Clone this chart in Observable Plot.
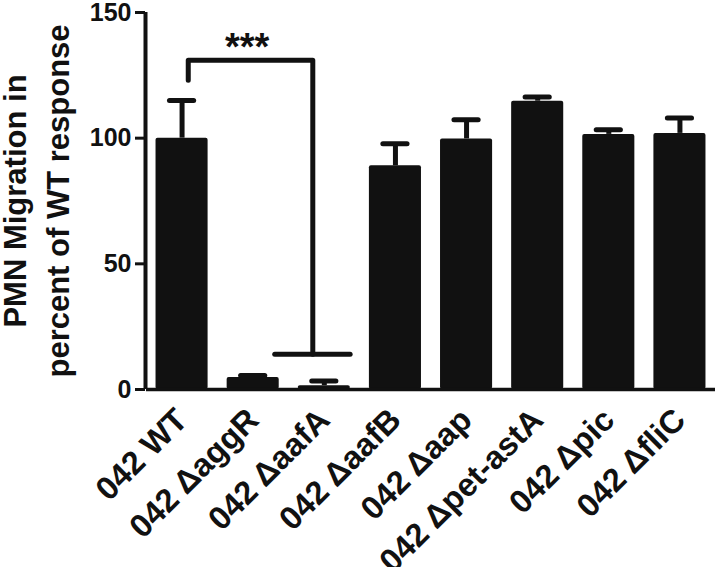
<!DOCTYPE html>
<html>
<head>
<meta charset="utf-8">
<script src="https://cdn.jsdelivr.net/npm/d3@7"></script>
<script src="https://cdn.jsdelivr.net/npm/@observablehq/plot@0.6"></script>
<style>
  html, body { margin: 0; padding: 0; background: #fff; }
  svg { display: block; }
</style>
</head>
<body>
<div id="chart"></div>
<script>
const categories = ["042 WT", "042 \u0394aggR", "042 \u0394aafA", "042 \u0394aafB", "042 \u0394aap", "042 \u0394pet-astA", "042 \u0394pic", "042 \u0394fliC"];
const means = [100, 4.8, 1.5, 89, 99.7, 114.7, 101.5, 101.9];
const upper = [115, 5.6, 3.4, 97.8, 107.3, 116.4, 103.3, 108];
const yTicks = [0, 50, 100, 150];
const yLabel = "PMN Migration in\npercent of WT response";
const sigLabel = "***";
// significance bracket (x in category-index units, y in data units)
const bracketPath = [{x: 0.087, y: 123}, {x: 0.087, y: 131}, {x: 1.838, y: 131}, {x: 1.838, y: 14}];
const bracketFoot = {x1: 1.31, x2: 2.37, y: 14};

const rows = categories.map((c, i) => ({i, name: c, mean: means[i], top: upper[i]}));
const ink = "#111";
const font = "'Liberation Sans', Arial, Helvetica, sans-serif";

const plot = Plot.plot({
  width: 720,
  height: 567,
  marginTop: 12,
  marginBottom: 178,
  marginLeft: 146,
  marginRight: 5,
  style: {fontFamily: font, background: "#fff", color: ink},
  x: {domain: [-0.5, 7.5], axis: null},
  y: {domain: [0, 150], axis: null},
  marks: [
    Plot.rect(rows, {x1: d => d.i - 0.366, x2: d => d.i + 0.366, y1: 0, y2: "mean", fill: ink, rx: 2}),
    Plot.ruleX(rows, {x: "i", y1: "mean", y2: "top", stroke: ink, strokeWidth: 5}),
    Plot.ruleY(rows, {x1: d => d.i - 0.17, x2: d => d.i + 0.17, y: "top", stroke: ink, strokeWidth: 5, strokeLinecap: "round"}),
    Plot.ruleX([-0.5], {y1: 0, y2: 150, stroke: ink, strokeWidth: 4, dx: -1}),
    Plot.ruleY([0], {stroke: ink, strokeWidth: 3.5}),
    Plot.axisY({ticks: yTicks, tickSize: 10, strokeWidth: 3, tickPadding: 4, fontSize: 25, fontWeight: "bold", label: null, anchor: "left", dx: -1}),
    Plot.axisX({ticks: d3.range(categories.length), tickFormat: i => categories[i], tickRotate: -45, tickSize: 0, tickPadding: 25, fontSize: 32.5, fontWeight: "bold", label: null}),
    Plot.line(bracketPath, {x: "x", y: "y", stroke: ink, strokeWidth: 5, strokeLinejoin: "round", strokeLinecap: "round"}),
    Plot.ruleY([bracketFoot], {x1: "x1", x2: "x2", y: "y", stroke: ink, strokeWidth: 5, strokeLinecap: "round"}),
    Plot.text([sigLabel], {x: 0.915, y: 131, text: d => d, fontSize: 38, fontWeight: "bold", lineAnchor: "bottom", fill: ink}),
    Plot.text([yLabel], {frameAnchor: "left", text: d => d, rotate: -90, textAnchor: "middle", lineAnchor: "middle", dx: -113, fontSize: 31, fontWeight: "bold", lineHeight: 1.4, fill: ink})
  ]
});
document.getElementById("chart").appendChild(plot);
</script>
</body>
</html>
